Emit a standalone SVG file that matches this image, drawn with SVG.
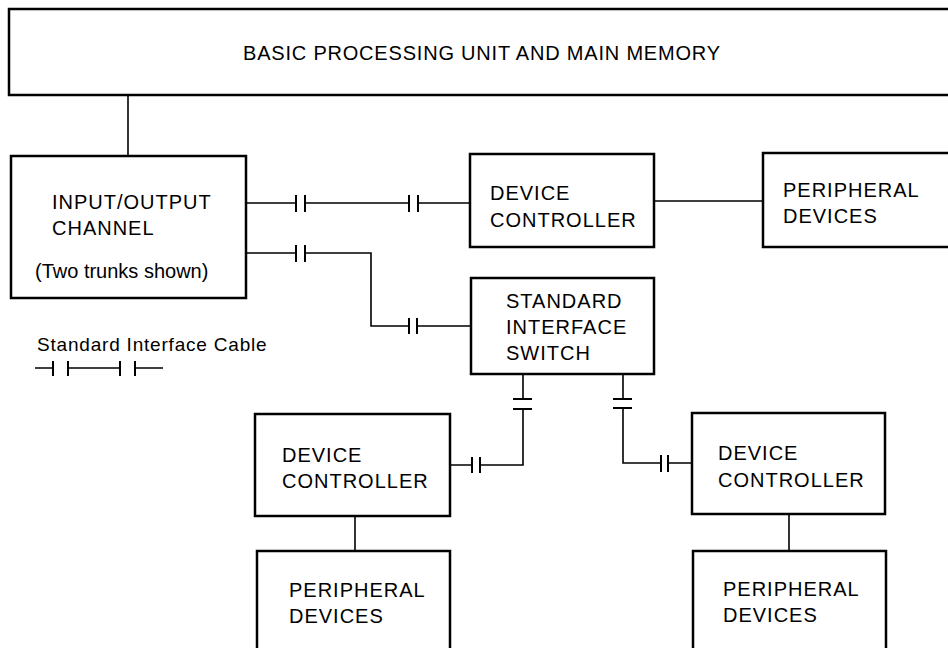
<svg xmlns="http://www.w3.org/2000/svg" width="948" height="648" viewBox="0 0 948 648">
<style>
.box{fill:#fff;stroke:#000;stroke-width:2.5}
.ln{fill:none;stroke:#000;stroke-width:1.6}
.bar{fill:none;stroke:#000;stroke-width:2}
text{font-family:"Liberation Sans",Arial,sans-serif;font-size:20px;fill:#000;letter-spacing:1px}
.top{letter-spacing:0.8px}
.lg{font-size:19px;letter-spacing:0.8px}
.tr{letter-spacing:0}
</style>
<rect width="948" height="648" fill="#fff"/>
<g id="connectors">
<path class="ln" d="M128 95V155"/>
<path class="ln" d="M246 203H296M305 203H409M418 203H470"/>
<path class="bar" d="M296 195V212M305 195V212M409 195V212M418 195V212"/>
<path class="ln" d="M654 201H763"/>
<path class="ln" d="M246 253H296M305 253H371V326H409M417 326H471"/>
<path class="bar" d="M296 245V262M305 245V262M409 318V334M417 318V334"/>
<path class="ln" d="M523 374V399M523 409V465H480M472 465H450"/>
<path class="bar" d="M513 399H532M513 409H532M480 457V473M472 457V473"/>
<path class="ln" d="M623 374V399M623 408V463H661M668 463H692"/>
<path class="bar" d="M613 399H632M613 408H632M661 455V472M668 455V472"/>
<path class="ln" d="M355 516V551"/>
<path class="ln" d="M789 514V551"/>
</g>
<g id="bpu">
<rect class="box" x="9" y="9" width="960" height="86"/>
<text class="top" x="243" y="60">BASIC PROCESSING UNIT AND MAIN MEMORY</text>
</g>
<g id="ioc">
<rect class="box" x="11" y="156" width="235" height="142"/>
<text x="52" y="209">INPUT/OUTPUT</text>
<text x="52" y="235">CHANNEL</text>
<text class="tr" x="35" y="278">(Two trunks shown)</text>
</g>
<g id="dc1">
<rect class="box" x="470" y="154" width="184" height="93"/>
<text x="490" y="200">DEVICE</text>
<text x="490" y="227">CONTROLLER</text>
</g>
<g id="pd1">
<rect class="box" x="763" y="153" width="200" height="94"/>
<text x="783" y="197">PERIPHERAL</text>
<text x="783" y="223">DEVICES</text>
</g>
<g id="sis">
<rect class="box" x="471" y="278" width="183" height="96"/>
<text x="506" y="308">STANDARD</text>
<text x="506" y="334">INTERFACE</text>
<text x="506" y="360">SWITCH</text>
</g>
<g id="dc2">
<rect class="box" x="255" y="414" width="195" height="102"/>
<text x="282" y="462">DEVICE</text>
<text x="282" y="488">CONTROLLER</text>
</g>
<g id="pd2">
<rect class="box" x="257" y="551" width="193" height="110"/>
<text x="289" y="597">PERIPHERAL</text>
<text x="289" y="623">DEVICES</text>
</g>
<g id="dc3">
<rect class="box" x="692" y="413" width="193" height="101"/>
<text x="718" y="460">DEVICE</text>
<text x="718" y="487">CONTROLLER</text>
</g>
<g id="pd3">
<rect class="box" x="693" y="551" width="193" height="110"/>
<text x="723" y="596">PERIPHERAL</text>
<text x="723" y="622">DEVICES</text>
</g>
<g id="legend">
<text class="lg" x="37" y="351">Standard Interface Cable</text>
<path class="ln" d="M35 368H53M68 368H120M135 368H163"/>
<path class="bar" d="M53 361V376M68 361V376M120 361V376M135 361V376"/>
</g>
</svg>
